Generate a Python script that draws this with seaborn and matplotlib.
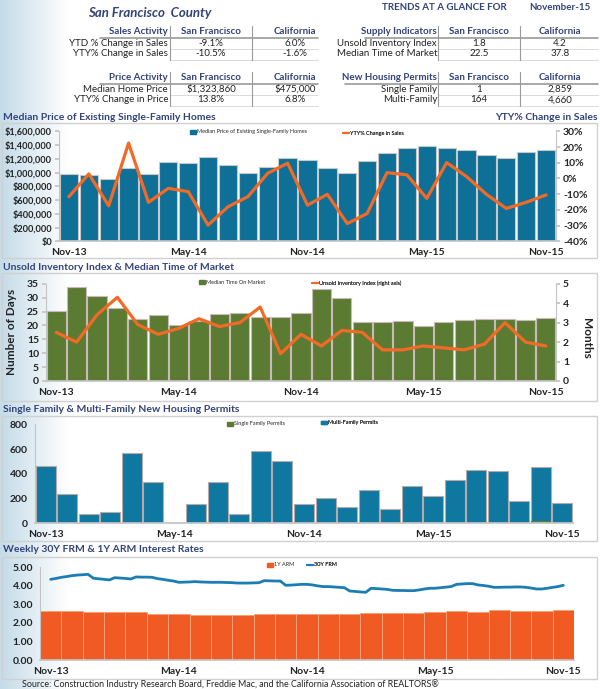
import numpy as np
import pandas as pd
import matplotlib
matplotlib.use("Agg")
import matplotlib.pyplot as plt
import seaborn as sns
from matplotlib.patches import Rectangle, Patch
from matplotlib.lines import Line2D

# --- Data ---
months = list(pd.date_range("2013-11-01", periods=25, freq="MS").strftime("%b-%y"))
tick_labels = ["Nov-13", "May-14", "Nov-14", "May-15", "Nov-15"]

median_price = [985000, 960000, 907000, 1067000, 984000, 1149000, 1135000, 1222000,
                1105000, 989000, 1081000, 1212000, 1178000, 1072000, 999000, 1168000,
                1290000, 1362000, 1387000, 1353000, 1324000, 1256000, 1207000, 1304000,
                1323860]
sales_yty = [-11.6, 2.9, -17.4, 22.5, -15.2, -6.3, -8.4, -29.7, -18.0, -11.6, 3.3, 9.7,
             -17.0, -10.1, -28.7, -22.3, 3.7, 2.3, -12.7, 10.1, 1.2, -10.1, -19.1, -15.2,
             -10.5]

days_on_market = [25.3, 33.9, 30.6, 26.1, 22.3, 23.6, 20.3, 21.6, 24.1, 24.3, 23.1, 22.9,
                  24.5, 33.2, 29.9, 21.1, 21.1, 21.6, 19.7, 21.3, 21.8, 22.3, 22.2, 21.8,
                  22.5]
inventory_index = [2.5, 2.0, 3.4, 4.3, 2.9, 2.4, 2.7, 3.2, 2.8, 3.0, 3.8, 1.4, 2.4, 1.8,
                   2.6, 2.5, 1.6, 1.6, 1.8, 1.7, 1.6, 1.9, 3.0, 2.0, 1.8]

multi_family = [463, 234, 73, 86, 571, 331, 0, 156, 334, 75, 585, 504, 154, 202, 127, 264,
                110, 299, 221, 345, 429, 423, 175, 442, 164]
single_family = [2, 1, 0, 3, 1, 2, 0, 1, 2, 1, 3, 2, 1, 1, 2, 3, 4, 2, 2, 1, 1, 2, 3, 16, 1]

arm_1y = [2.64, 2.63, 2.61, 2.59, 2.57, 2.50, 2.48, 2.45, 2.45, 2.45, 2.50, 2.48, 2.50,
          2.46, 2.46, 2.52, 2.52, 2.55, 2.59, 2.64, 2.61, 2.68, 2.66, 2.66, 2.72]
# weekly 30Y FRM, four readings per month plus the last week
frm_30y = [4.35, 4.40, 4.46, 4.50, 4.55, 4.58, 4.60, 4.62, 4.41, 4.38, 4.35, 4.32,
           4.44, 4.42, 4.40, 4.37, 4.48, 4.47, 4.47, 4.46, 4.39, 4.35, 4.30, 4.26,
           4.19, 4.20, 4.21, 4.23, 4.21, 4.20, 4.19, 4.19, 4.19, 4.18, 4.17, 4.15,
           4.15, 4.15, 4.16, 4.17, 4.28, 4.27, 4.26, 4.26, 4.03, 4.04, 4.06, 4.08,
           4.08, 4.05, 4.00, 3.96, 3.96, 3.94, 3.92, 3.90, 3.72, 3.70, 3.67, 3.65,
           3.87, 3.85, 3.83, 3.81, 3.76, 3.75, 3.75, 3.74, 3.74, 3.78, 3.83, 3.87,
           3.87, 3.90, 3.93, 3.96, 4.08, 4.10, 4.12, 4.12, 4.05, 4.02, 3.98, 3.92,
           3.92, 3.93, 3.93, 3.94, 3.94, 3.92, 3.88, 3.83, 3.83, 3.87, 3.92, 3.96,
           4.03]

df = pd.DataFrame({
    "month": months,
    "median_price": median_price,
    "sales_yty": sales_yty,
    "days": days_on_market,
    "inventory": inventory_index,
    "single": single_family,
    "total_permits": np.array(single_family) + np.array(multi_family),
    "arm": arm_1y,
})
pos = np.arange(len(months))

# --- Style ---
sns.set_theme(style="white")
plt.rcParams["font.family"] = ["Lato", "DejaVu Sans"]

NAVY = "#33437a"
TXT = "#222222"
GRAY = "#c4c4c4"
BLUE = "#0e6f97"
BLUE3 = "#0f78a0"
GREEN = "#5b7b33"
ORANGE = "#f26a25"
ARM = "#f15a22"
FRM = "#1b7db4"

W, H = 600, 689
fig = plt.figure(figsize=(6, 6.89), dpi=100)


def fx(x):
    return x / W


def fy(y):
    return 1 - y / H


def box(x0, y0, x1, y1):
    return [x0 / W, 1 - y1 / H, (x1 - x0) / W, (y1 - y0) / H]


# light blue fade on the left edge
bg = fig.add_axes([0, 0, 1, 1], zorder=-10)
xs = np.clip(np.arange(W) / 68.0, 0, 1)
left = np.array([0.77, 0.86, 0.91])
row = left[None, :] * (1 - xs[:, None]) + xs[:, None]
bg.imshow(row[None, :, :], aspect="auto", extent=[0, W, 0, H])
bg.axis("off")

# --- Header tables ---
fig.text(fx(150), fy(13), "San Francisco  County", ha="center", va="center",
         color=NAVY, fontsize=9.5, fontweight="bold", fontstyle="italic")
fig.text(fx(444), fy(8), "TRENDS AT A GLANCE FOR", ha="center", va="center",
         color=NAVY, fontsize=7, fontweight="bold")
fig.text(fx(560), fy(8), "November-15", ha="center", va="center",
         color=NAVY, fontsize=7, fontweight="bold")


def table(x_lab, x_start, x_sep1, x_sep2, x_c1, x_c2, x_end, y0, header, rows):
    fig.text(fx(x_lab), fy(y0), header[0], ha="right", va="center", color=NAVY,
             fontsize=7, fontweight="bold")
    fig.text(fx(x_c1), fy(y0), header[1], ha="center", va="center", color=NAVY,
             fontsize=7, fontweight="bold")
    fig.text(fx(x_c2), fy(y0), header[2], ha="center", va="center", color=NAVY,
             fontsize=7, fontweight="bold")
    fig.add_artist(Line2D([fx(x_start), fx(x_end)], [fy(y0 + 6), fy(y0 + 6)],
                          color="#9a9a9a", lw=1.2))
    for i, (lab, v1, v2) in enumerate(rows):
        y = y0 + 11 * (i + 1)
        fig.text(fx(x_lab), fy(y), lab, ha="right", va="center", color=TXT, fontsize=7)
        fig.text(fx(x_c1), fy(y), v1, ha="center", va="center", color=TXT, fontsize=7)
        fig.text(fx(x_c2), fy(y), v2, ha="center", va="center", color=TXT, fontsize=7)
        fig.add_artist(Line2D([fx(x_sep1), fx(x_end)], [fy(y + 5.5), fy(y + 5.5)],
                              color="#dadada", lw=0.7))
    for xs_ in (x_sep1, x_sep2):
        fig.add_artist(Line2D([fx(xs_), fx(xs_)], [fy(y0 - 6), fy(y0 + 28)],
                              color="#9a9a9a", lw=0.8))


table(168, 100, 170, 252, 211, 295, 318, 32,
      ["Sales Activity", "San Francisco", "California"],
      [["YTD % Change in Sales", "-9.1%", "6.0%"],
       ["YTY% Change in Sales", "-10.5%", "-1.6%"]])
table(168, 100, 170, 252, 211, 295, 318, 78,
      ["Price Activity", "San Francisco", "California"],
      [["Median Home Price", "$1,323,860", "$475,000"],
       ["YTY% Change in Price", "13.8%", "6.8%"]])
table(437, 365, 438, 520, 479, 560, 598, 32,
      ["Supply Indicators", "San Francisco", "California"],
      [["Unsold Inventory Index", "1.8", "4.2"],
       ["Median Time of Market", "22.5", "37.8"]])
table(437, 345, 438, 520, 479, 560, 598, 78,
      ["New Housing Permits", "San Francisco", "California"],
      [["Single Family", "1", "2,859"],
       ["Multi-Family", "164", "4,660"]])

# panel frames
for y0, y1 in [(123, 258), (273, 401), (416, 541), (557, 679)]:
    fig.add_artist(Rectangle((fx(2), fy(y1)), fx(597) - fx(2), fy(y0) - fy(y1),
                             transform=fig.transFigure, fill=False,
                             edgecolor="#d0d0d0", lw=1))

titles = [(117, "Median Price of Existing Single-Family Homes"),
          (267, "Unsold Inventory Index & Median Time of Market"),
          (409, "Single Family & Multi-Family New Housing Permits"),
          (550, "Weekly 30Y FRM & 1Y ARM Interest Rates")]
for y, t in titles:
    fig.text(fx(3), fy(y), t, ha="left", va="center", color=NAVY, fontsize=7.5,
             fontweight="bold")
fig.text(fx(598), fy(117), "YTY% Change in Sales", ha="right", va="center",
         color=NAVY, fontsize=7.5, fontweight="bold")


def style_x(ax):
    ax.set_xlim(-0.5, 24.5)
    ax.set_xticks([0, 6, 12, 18, 24])
    ax.set_xticklabels(tick_labels)
    ax.set_xticks([-0.5, 5.5, 11.5, 17.5, 23.5], minor=True)
    ax.tick_params(axis="x", which="major", length=0, pad=5, labelsize=7.5,
                   labelcolor=TXT)
    ax.tick_params(axis="x", which="minor", length=4, color=GRAY, direction="out")
    for lab in ax.get_xticklabels():
        lab.set_fontweight("bold")
    ax.set_xlabel("")
    ax.set_ylabel("")


def style_y(ax, side="left", size=7.5):
    ax.tick_params(axis="y", length=3, color=GRAY, direction="out", pad=2,
                   labelsize=size, labelcolor=TXT)
    for lab in ax.get_yticklabels():
        lab.set_fontweight("bold")
    for s in ax.spines.values():
        s.set_visible(False)
    ax.spines["bottom"].set_visible(side == "left")
    ax.spines["bottom"].set_color(GRAY)
    ax.spines[side].set_visible(True)
    ax.spines[side].set_color(GRAY)
    ax.spines[side].set_linewidth(0.8)
    ax.set_facecolor("none")


def small_legend(ax, handle, label, x, y):
    leg = ax.legend([handle], [label], loc="center left",
                    bbox_to_anchor=(fx(x), fy(y)), bbox_transform=fig.transFigure,
                    frameon=False, fontsize=4, handlelength=1.0, handleheight=0.7,
                    handletextpad=0.3, borderpad=0, borderaxespad=0)
    ax.add_artist(leg)


# --- Panel 1: median price + YTY sales ---
ax1 = fig.add_axes(box(59, 131.3, 556, 241.3))
sns.barplot(data=df, x="month", y="median_price", order=months, color=BLUE,
            saturation=1, width=0.92, edgecolor="#c8c8c8", linewidth=0.8, ax=ax1)
ax1.set_ylim(0, 1600000)
ax1.set_yticks(np.arange(0, 1600001, 200000))
ax1.set_yticklabels([f"${v:,.0f}" for v in np.arange(0, 1600001, 200000)])
style_y(ax1, size=6.6)
style_x(ax1)

ax1b = ax1.twinx()
sns.lineplot(x=pos, y=df["sales_yty"], color=ORANGE, lw=2.3, ax=ax1b)
ax1b.set_ylim(-40, 30)
ax1b.set_yticks(np.arange(-40, 31, 10))
ax1b.set_yticklabels([f"{v}%" for v in np.arange(-40, 31, 10)])
style_y(ax1b, "right")
ax1b.set_ylabel("")
ax1.set_xlim(-0.5, 24.5)
small_legend(ax1b, Patch(color=BLUE), "Median Price of Existing Single-Family Homes", 190, 132)
small_legend(ax1b, Line2D([], [], color=ORANGE, lw=1.5), "YTY% Change in Sales", 343, 133)

# --- Panel 2: days on market + inventory index ---
ax2 = fig.add_axes(box(46, 283.7, 556, 381))
sns.barplot(data=df, x="month", y="days", order=months, color=GREEN, saturation=1,
            width=0.94, edgecolor="#cbb9b9", linewidth=0.8, ax=ax2)
ax2.set_ylim(0, 35)
ax2.set_yticks(np.arange(0, 36, 5))
style_y(ax2)
style_x(ax2)

ax2b = ax2.twinx()
sns.lineplot(x=pos, y=df["inventory"], color=ORANGE, lw=2.3, ax=ax2b)
ax2b.set_ylim(0, 5)
ax2b.set_yticks(np.arange(0, 6, 1))
style_y(ax2b, "right")
ax2b.set_ylabel("")
ax2.set_xlim(-0.5, 24.5)
fig.text(fx(12), fy(332), "Number of Days", rotation=90, ha="center", va="center",
         color=TXT, fontsize=8.5, fontweight="bold")
fig.text(fx(586), fy(338), "Months", rotation=-90, ha="center", va="center",
         color=TXT, fontsize=8.5, fontweight="bold")
small_legend(ax2b, Patch(color=GREEN), "Median Time On Market", 199, 282)
small_legend(ax2b, Line2D([], [], color=ORANGE, lw=1.5),
             "Unsold Inventory Index (right axis)", 312, 283)

# --- Panel 3: permits ---
ax3 = fig.add_axes(box(35, 424.3, 573, 523.3))
sns.barplot(data=df, x="month", y="total_permits", order=months, color=BLUE3,
            saturation=1, width=0.93, edgecolor="#b9a9a9", linewidth=0.8, ax=ax3)
sns.barplot(data=df, x="month", y="single", order=months, color=GREEN,
            saturation=1, width=0.93, linewidth=0, ax=ax3)
ax3.set_ylim(0, 800)
ax3.set_yticks(np.arange(0, 801, 200))
style_y(ax3)
style_x(ax3)
small_legend(ax3, Patch(color=GREEN), "Single Family Permits", 227, 424)
small_legend(ax3, Patch(color=BLUE3), "Multi-Family Permits", 321, 423)

# --- Panel 4: interest rates ---
ax4 = fig.add_axes(box(40, 567.3, 574, 660))
sns.barplot(data=df, x="month", y="arm", order=months, color=ARM, saturation=1,
            width=1.0, edgecolor="#f4a275", linewidth=0.7, ax=ax4)
sns.lineplot(x=np.linspace(0, 24, len(frm_30y)), y=frm_30y, color=FRM, lw=2.0, ax=ax4)
ax4.set_ylim(0, 5)
ax4.set_yticks(np.arange(0, 5.01, 1))
ax4.set_yticklabels([f"{v:.2f}" for v in np.arange(0, 5.01, 1)])
style_y(ax4)
style_x(ax4)
small_legend(ax4, Patch(color=ARM), "1Y ARM", 267, 565)
small_legend(ax4, Line2D([], [], color=FRM, lw=1.5), "30Y FRM", 307, 565)

fig.text(fx(22), fy(684), "Source: Construction Industry Research Board, Freddie Mac, "
         "and the California Association of REALTORS®", ha="left", va="center",
         color=TXT, fontsize=6.4)

fig.savefig("out.png", dpi=100)
